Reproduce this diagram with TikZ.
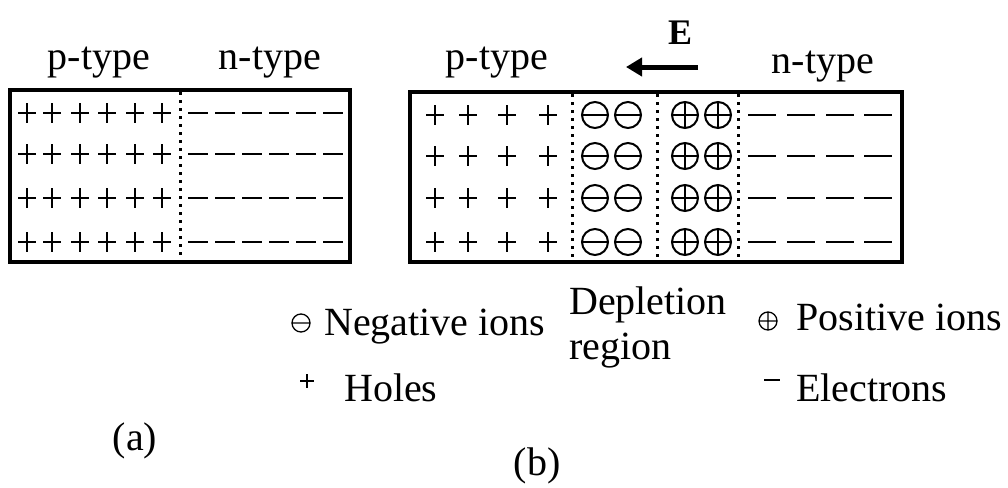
\documentclass[tikz,border=0pt]{standalone}
\usepackage{fontspec}
\setmainfont{Liberation Serif}
\usetikzlibrary{arrows.meta}
\begin{document}
\begin{tikzpicture}[x=1pt,y=-1pt,
  lbl/.style={font=\fontsize{40}{45}\selectfont, anchor=base, inner sep=0pt},
  frame/.style={line width=3.5pt},
  sep/.style={line width=3pt, dash pattern=on 3pt off 5pt},
  holep/.style={line width=2pt},
  elec/.style={line width=2pt},
  ion/.style={line width=2pt},
  legsym/.style={line width=1.3pt}]
\useasboundingbox (0,0) rectangle (1008,487);
\newcommand{\hp}[2]{\draw[holep] (#1-9,#2) -- (#1+9,#2) (#1,#2-10) -- (#1,#2+10);}
\newcommand{\el}[3]{\draw[elec] (#1-#3,#2) -- (#1+#3,#2);}
\newcommand{\nion}[2]{\draw[ion] (#1,#2) circle (13); \draw[ion] (#1-13,#2) -- (#1+13,#2);}
\newcommand{\pion}[2]{\draw[ion] (#1,#2) circle (13); \draw[ion] (#1-13,#2) -- (#1+13,#2) (#1,#2-13) -- (#1,#2+13);}

% ---------- (a) ----------
\node[lbl] (pa) at (99,70) {p-type};
\node[lbl] (na) at (270,70) {n-type};
\draw[frame] (10,90) rectangle (350,262);
\draw[sep] (180,92) -- (180,260);
\foreach \y in {113,154,198,242}{
  \foreach \x in {27,52,80,107,135,162}{\hp{\x}{\y}}
  \foreach \x in {198,225,252,279,306,333}{\el{\x}{\y}{10}}
}
\node[lbl] (la) at (135,450) {(a)};

% ---------- (b) ----------
\node[lbl] (pb) at (497,70) {p-type};
\node[lbl] (nb) at (823,73) {n-type};
\node[lbl, font=\fontsize{36}{40}\selectfont\bfseries] (E) at (680,45) {E};
\coordinate (ea) at (698,67);
\coordinate (eb) at (626,67);
\draw[line width=5pt, -{Triangle[length=16pt,width=18pt]}] (ea) -- (eb);
\draw[frame] (410,92) rectangle (902,262);
\draw[sep] (572,94) -- (572,260);
\draw[sep] (657,94) -- (657,260);
\draw[sep] (738,94) -- (738,260);
\foreach \y in {115,156,198,242}{
  \foreach \x in {435,468,507,548}{\hp{\x}{\y}}
  \nion{595}{\y}\nion{628}{\y}
  \pion{685}{\y}\pion{718}{\y}
  \foreach \x in {762,801,840,878}{\el{\x}{\y}{14}}
}

% ---------- legend ----------
\draw[legsym] (301,323) circle (9) (292,323) -- (310,323);
\node[lbl, anchor=base west] (neg) at (324,335) {Negative ions};
\node[lbl, anchor=base west] (dep1) at (569,314) {Depletion};
\node[lbl, anchor=base west] (dep2) at (569,359) {region};
\draw[legsym] (768,321) circle (9) (759,321) -- (777,321) (768,312) -- (768,330);
\node[lbl, anchor=base west] (pos) at (796,330) {Positive ions};
\draw[legsym] (300,381) -- (314,381) (307,374) -- (307,388);
\node[lbl, anchor=base west] (hol) at (344,401) {Holes};
\draw[line width=1.6pt] (764,380) -- (780,380);
\node[lbl, anchor=base west] (ele) at (796,401) {Electrons};
\node[lbl] (lb) at (537,475) {(b)};
\end{tikzpicture}
\end{document}
